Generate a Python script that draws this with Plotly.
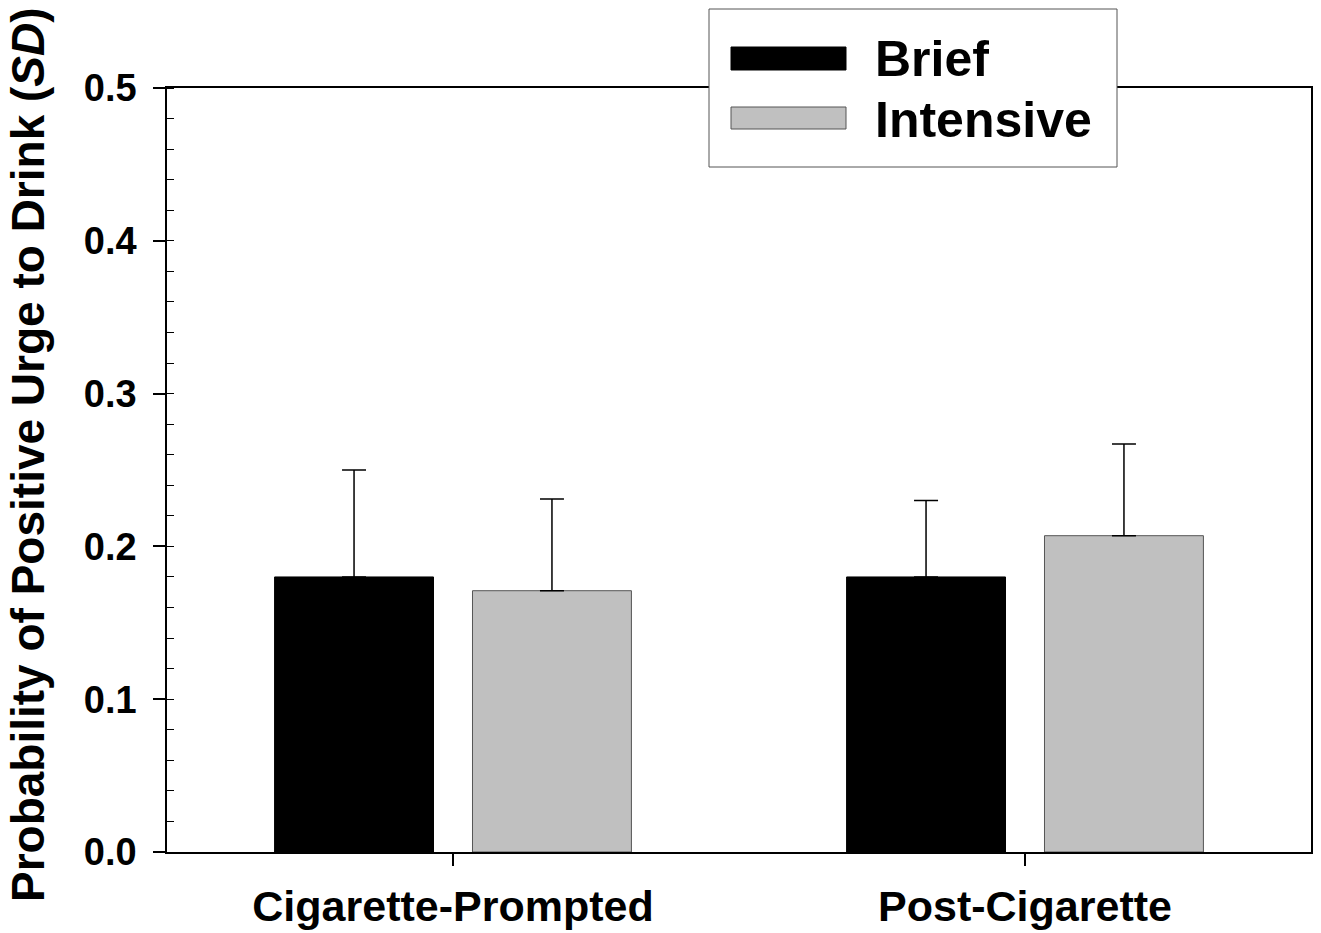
import plotly.graph_objects as go

categories = ["Cigarette-Prompted", "Post-Cigarette"]
series_names = ["Brief", "Intensive"]
brief_values = [0.180, 0.180]
brief_sd = [0.070, 0.050]
intensive_values = [0.171, 0.207]
intensive_sd = [0.060, 0.060]
y_tick_values = [0.0, 0.1, 0.2, 0.3, 0.4, 0.5]
y_tick_labels = ["0.0", "0.1", "0.2", "0.3", "0.4", "0.5"]

FONT = "Liberation Sans, Arial, sans-serif"
GREY = "#c0c0c0"

fig = go.Figure()
fig.add_trace(go.Bar(
    x=categories, y=brief_values, name=series_names[0],
    marker=dict(color="black", line=dict(color="black", width=1)),
    error_y=dict(type="data", array=brief_sd, arrayminus=[0, 0], symmetric=False,
                 color="black", thickness=1.5, width=12),
    showlegend=False,
))
fig.add_trace(go.Bar(
    x=categories, y=intensive_values, name=series_names[1],
    marker=dict(color=GREY, line=dict(color="#555555", width=1)),
    error_y=dict(type="data", array=intensive_sd, arrayminus=[0, 0], symmetric=False,
                 color="black", thickness=1.5, width=12),
    showlegend=False,
))

# Manual legend (pixel positions converted to paper coordinates)
W, H, L, B = 1144, 764, 167, 81
def px(x):
    return (x - L) / W
def py(y):
    return (933 - B - y) / H

shapes = [
    dict(type="rect", xref="paper", yref="paper", x0=px(709), x1=px(1117), y0=py(167), y1=py(9),
         fillcolor="white", line=dict(color="#555555", width=1), layer="above"),
    dict(type="rect", xref="paper", yref="paper", x0=px(731), x1=px(846), y0=py(70), y1=py(47),
         fillcolor="black", line=dict(color="black", width=1), layer="above"),
    dict(type="rect", xref="paper", yref="paper", x0=px(731), x1=px(846), y0=py(129), y1=py(107),
         fillcolor=GREY, line=dict(color="#555555", width=1), layer="above"),
]
annotations = [
    dict(text="<b>" + series_names[0] + "</b>", xref="paper", yref="paper", x=px(873), y=py(59),
         xanchor="left", yanchor="middle", showarrow=False, font=dict(family=FONT, size=50, color="black")),
    dict(text="<b>" + series_names[1] + "</b>", xref="paper", yref="paper", x=px(873), y=py(120),
         xanchor="left", yanchor="middle", showarrow=False, font=dict(family=FONT, size=50, color="black")),
    dict(text="<b>Probability of Positive Urge to Drink (<i>SD</i>)</b>", xref="paper", yref="paper",
         x=px(28), y=py(455), xanchor="center", yanchor="middle", textangle=-90, showarrow=False,
         font=dict(family=FONT, size=46, color="black")),
]

fig.update_layout(
    width=1321, height=933,
    margin=dict(l=L, r=10, t=88, b=B),
    paper_bgcolor="white", plot_bgcolor="white",
    barmode="group", bargap=0.308, bargroupgap=0.197,
    shapes=shapes, annotations=annotations,
    font=dict(family=FONT, color="black"),
)
fig.update_xaxes(
    range=[-0.5, 1.5], showline=True, linecolor="black", linewidth=1.5, mirror=True,
    ticks="outside", ticklen=12, tickwidth=1.5, tickcolor="black",
    tickfont=dict(family=FONT, size=43, color="black"),
    tickprefix="<b>", ticksuffix="</b>", showgrid=False, zeroline=False,
    ticklabelstandoff=4, automargin=False,
)
fig.update_yaxes(
    range=[0, 0.5], showline=True, linecolor="black", linewidth=1.5, mirror=True,
    ticks="outside", ticklen=12, tickwidth=1.5, tickcolor="black",
    tickvals=y_tick_values, ticktext=["<b>" + t + "</b>" for t in y_tick_labels],
    tickfont=dict(family=FONT, size=38, color="black"),
    showgrid=False, zeroline=False, ticklabelstandoff=9, automargin=False,
    minor=dict(dtick=0.02, ticks="inside", ticklen=7, tickwidth=1, tickcolor="black", showgrid=False),
)

fig.write_html("out.html", config={"displayModeBar": False},
               post_script="document.body.style.margin='0px';")
